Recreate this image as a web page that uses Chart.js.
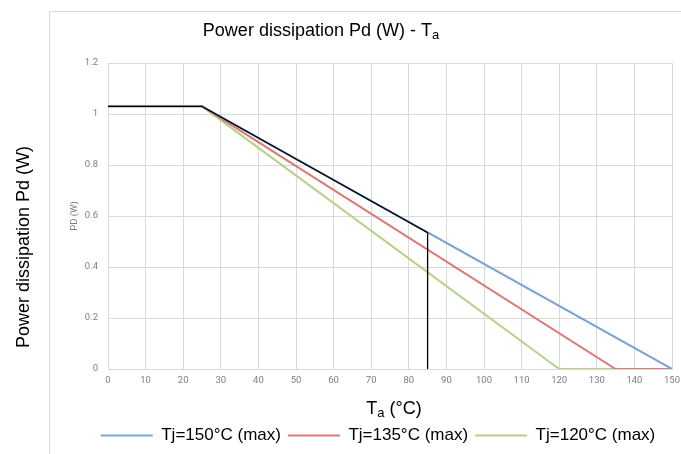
<!DOCTYPE html>
<html>
<head>
<meta charset="utf-8">
<script src="https://cdn.jsdelivr.net/npm/chart.js@4"></script>
<style>
  html, body { margin: 0; padding: 0; background: #fff; }
  #wrap { width: 681px; height: 454px; position: relative; }
</style>
</head>
<body>
<div id="wrap"><canvas id="pdChart"></canvas></div>
<script>
// values
const ta150 = [0, 25, 150];
const pd150 = [1.03, 1.03, 0];
const ta135 = [0, 25, 135, 150];
const pd135 = [1.03, 1.03, 0, 0];
const ta120 = [0, 25, 120, 150];
const pd120 = [1.03, 1.03, 0, 0];
const taLimit = [0, 25, 85, 85];
const pdLimit = [1.03, 1.03, 0.535, 0];
const seriesNames = ['Tj=150°C (max)', 'Tj=135°C (max)', 'Tj=120°C (max)'];

function toPoints(xs, ys) {
    return xs.map((x, i) => ({ x: x, y: ys[i] }));
}

const gridColor = '#d9d9d9';
const tickColor = '#7f7f7f';
const padLeft = 84;

// draws the frame, titles (with subscript) and axis labels
const textPlugin = {
    id: 'textPlugin',
    afterDraw(chart) {
        const c = chart.ctx;
        c.save();
        c.strokeStyle = gridColor;
        c.lineWidth = 1;
        c.beginPath();
        c.moveTo(49.5, 454);
        c.lineTo(49.5, 11.5);
        c.lineTo(681, 11.5);
        c.stroke();

        c.fillStyle = '#000';
        c.textBaseline = 'alphabetic';
        function subText(main, sub, rest, cx, baseY, size) {
            c.font = size + 'px "Liberation Sans", Arial, sans-serif';
            const w1 = c.measureText(main).width;
            const w3 = c.measureText(rest).width;
            c.font = Math.round(size * 0.72) + 'px "Liberation Sans", Arial, sans-serif';
            const w2 = c.measureText(sub).width;
            let x = cx - (w1 + w2 + w3) / 2;
            c.textAlign = 'left';
            c.font = size + 'px "Liberation Sans", Arial, sans-serif';
            c.fillText(main, x, baseY);
            x += w1;
            c.font = Math.round(size * 0.72) + 'px "Liberation Sans", Arial, sans-serif';
            c.fillText(sub, x, baseY + 3);
            x += w2;
            c.font = size + 'px "Liberation Sans", Arial, sans-serif';
            c.fillText(rest, x, baseY);
        }
        subText('Power dissipation Pd (W) - T', 'a', '', 321, 36, 18);
        subText('T', 'a', ' (°C)', 394, 414, 18);

        // outer y label
        c.save();
        c.translate(29, 247);
        c.rotate(-Math.PI / 2);
        c.textAlign = 'center';
        c.font = '18px "Liberation Sans", Arial, sans-serif';
        c.fillText('Power dissipation Pd (W)', 0, 0);
        c.restore();

        // inner y label
        c.save();
        c.translate(77, 216);
        c.rotate(-Math.PI / 2);
        c.textAlign = 'center';
        c.fillStyle = tickColor;
        c.font = '9.5px Roboto, sans-serif';
        c.fillText('PD (W)', 0, 0);
        c.restore();
        c.restore();
    }
};

const ctx = document.getElementById('pdChart').getContext('2d');
const pdChart = new Chart(ctx, {
    type: 'line',
    data: {
        datasets: [{
            label: seriesNames[0],
            data: toPoints(ta150, pd150),
            borderColor: 'rgb(124, 163, 214)',
            backgroundColor: 'rgb(124, 163, 214)',
            borderWidth: 2,
            pointRadius: 0,
            order: 0
        }, {
            label: seriesNames[1],
            data: toPoints(ta135, pd135),
            borderColor: 'rgb(217, 122, 120)',
            backgroundColor: 'rgb(217, 122, 120)',
            borderWidth: 2,
            pointRadius: 0,
            order: 0
        }, {
            label: seriesNames[2],
            data: toPoints(ta120, pd120),
            borderColor: 'rgb(182, 210, 134)',
            backgroundColor: 'rgb(182, 210, 134)',
            borderWidth: 2,
            pointRadius: 0,
            order: 0
        }, {
            label: 'limit',
            data: toPoints(taLimit, pdLimit),
            borderColor: '#000',
            backgroundColor: '#000',
            borderWidth: 1.3,
            pointRadius: 0,
            order: -1
        }]
    },
    options: {
        responsive: true,
        maintainAspectRatio: false,
        animation: false,
        events: [],
        layout: {
            padding: { top: 63, left: padLeft, right: 9, bottom: 0 }
        },
        scales: {
            x: {
                type: 'linear',
                min: 0,
                max: 150,
                ticks: {
                    stepSize: 10,
                    color: tickColor,
                    font: { family: 'Roboto', size: 9.5 },
                    padding: 6,
                    maxRotation: 0
                },
                grid: { color: gridColor, drawTicks: false },
                border: { color: gridColor },
                afterFit: function(scale) {
                    scale.height = 51;
                    scale.paddingLeft = 0;
                    scale.paddingRight = 0;
                }
            },
            y: {
                min: 0,
                max: 1.2,
                ticks: {
                    stepSize: 0.2,
                    color: tickColor,
                    font: { family: 'Roboto', size: 9.5 },
                    padding: 10,
                    callback: function(v) { return Math.round(v * 10) / 10; }
                },
                grid: { color: gridColor, drawTicks: false },
                border: { color: gridColor },
                afterFit: function(scale) { scale.width = 108 - padLeft; }
            }
        },
        plugins: {
            title: { display: false },
            tooltip: { enabled: false },
            legend: {
                position: 'bottom',
                labels: {
                    filter: function(item) { return item.datasetIndex < 3; },
                    usePointStyle: true,
                    pointStyle: 'line',
                    pointStyleWidth: 52,
                    color: '#000',
                    font: { family: 'Liberation Sans', size: 17 },
                    padding: 7
                }
            }
        }
    },
    plugins: [textPlugin]
});
</script>
</body>
</html>
